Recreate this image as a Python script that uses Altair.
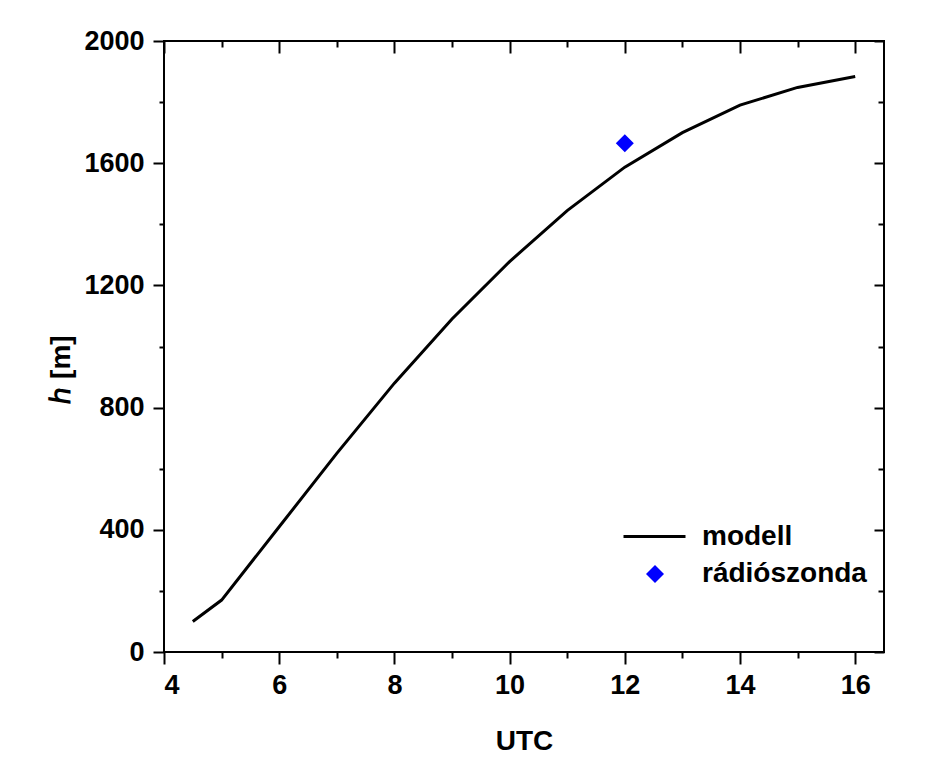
import altair as alt
import pandas as pd

# model curve
hours = [4.5, 5, 6, 7, 8, 9, 10, 11, 12, 13, 14, 15, 16]
heights = [100, 170, 410, 650, 880, 1090, 1278, 1445, 1587, 1700, 1790, 1848, 1884]
# radiosonde observation
sonde_hours = [12]
sonde_heights = [1665]

model_name = ["modell"]
sonde_name = ["rádiószonda"]
x_major = [4, 6, 8, 10, 12, 14, 16]
x_minor = [5, 7, 9, 11, 13, 15]
y_major = [0, 400, 800, 1200, 1600, 2000]
y_minor = [200, 600, 1000, 1400, 1800]

model_df = pd.DataFrame({"UTC": hours, "h": heights, "model": model_name[0]})
sonde_df = pd.DataFrame({"UTC": sonde_hours, "h": sonde_heights, "sonde": sonde_name[0]})

FONT = "Liberation Sans"
xscale = alt.Scale(domain=[4, 16.5], nice=False, zero=False)
yscale = alt.Scale(domain=[0, 2000], nice=False, zero=False)

legend_text = dict(labelFont=FONT, labelFontWeight="bold", labelFontSize=28,
                   labelColor="black", labelLimit=500, title=None, orient="none", padding=0)

line_legend = alt.Legend(legendX=458, legendY=463, labelOffset=15,
                         symbolType="stroke", symbolSize=3844, symbolStrokeWidth=2.8,
                         symbolStrokeColor="black", **legend_text)
sonde_legend = alt.Legend(legendX=477, legendY=519, labelOffset=33,
                          symbolType="diamond", symbolSize=324, symbolStrokeWidth=0,
                          symbolFillColor="#0000ff", symbolOpacity=1, **legend_text)

tick_common = dict(grid=False, domain=False, tickColor="black", tickWidth=2)


def xaxis(orient, values, size, offset=0, labels=False, title=None):
    kw = dict(tick_common, orient=orient, values=values, tickSize=size, offset=offset,
              labels=labels, title=title)
    if labels:
        kw.update(labelFont=FONT, labelFontWeight="bold", labelFontSize=27, labelColor="black",
                  labelPadding=8, labelBaseline="top", format="d")
    if title:
        kw.update(titleFont=FONT, titleFontWeight="bold", titleFontSize=28, titleColor="black",
                  titleX=360, titleY=97, titleAlign="center", titleBaseline="alphabetic")
    return alt.Axis(**kw)


def yaxis(orient, values, size, offset=0, labels=False, title=None):
    kw = dict(tick_common, orient=orient, values=values, tickSize=size, offset=offset,
              labels=labels, title=title)
    if labels:
        kw.update(labelFont=FONT, labelFontWeight="bold", labelFontSize=27, labelColor="black",
                  labelPadding=9, format="d")
    if title:
        kw.update(titleFont=FONT, titleFontWeight="bold", titleFontSize=28, titleColor="black",
                  titleX=-103, titleY=328, titleAngle=-90, titleAlign="center",
                  titleBaseline="middle")
    return alt.Axis(**kw)


line = alt.Chart(model_df).mark_line(strokeWidth=3).encode(
    x=alt.X("UTC:Q", scale=xscale, axis=xaxis("bottom", x_major, 12, labels=True, title="UTC")),
    y=alt.Y("h:Q", scale=yscale, axis=yaxis("left", y_major, 11, labels=True, title="ℎ [m]")),
    stroke=alt.Stroke("model:N", scale=alt.Scale(domain=model_name, range=["black"]),
                      legend=line_legend),
)

points = alt.Chart(sonde_df).mark_point(shape="diamond", filled=True, size=324, opacity=1).encode(
    x=alt.X("UTC:Q", scale=xscale, axis=xaxis("bottom", x_minor, 6)),
    y=alt.Y("h:Q", scale=yscale, axis=yaxis("left", y_minor, 5)),
    fill=alt.Fill("sonde:N", scale=alt.Scale(domain=sonde_name, range=["#0000ff"]),
                  legend=sonde_legend),
)

ghost_major = alt.Chart(model_df).mark_point(opacity=0).encode(
    x=alt.X("UTC:Q", scale=xscale, axis=xaxis("top", x_major, 12, offset=-12)),
    y=alt.Y("h:Q", scale=yscale, axis=yaxis("right", y_major, 10, offset=-10)),
)

ghost_minor = alt.Chart(model_df).mark_point(opacity=0).encode(
    x=alt.X("UTC:Q", scale=xscale, axis=xaxis("top", x_minor, 6, offset=-6)),
    y=alt.Y("h:Q", scale=yscale, axis=yaxis("right", y_minor, 6, offset=-6)),
)

chart = alt.layer(line, points, ghost_major, ghost_minor).resolve_axis(
    x="independent", y="independent"
).resolve_legend(
    stroke="independent", fill="independent"
).properties(
    width=720, height=611,
    padding={"left": 156, "top": 33, "right": 59, "bottom": 107},
    autosize=alt.AutoSizeParams(type="none"),
    background="white",
).configure_view(stroke="black", strokeWidth=2)

chart.save("out.html", embed_options={"renderer": "svg", "actions": False})
